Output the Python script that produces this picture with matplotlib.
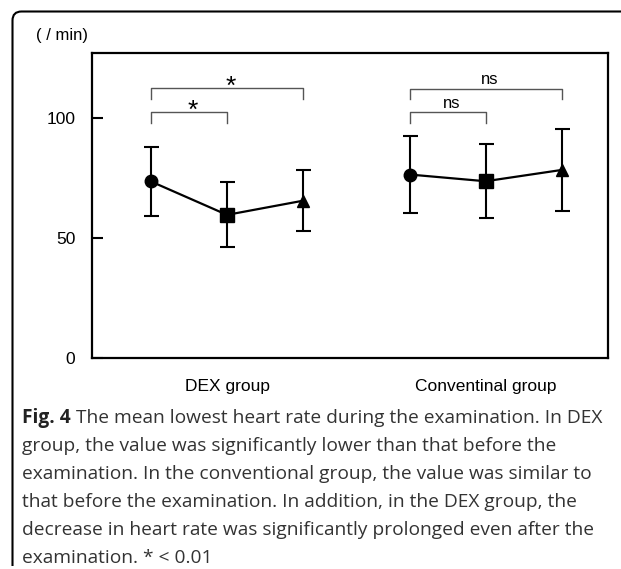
import matplotlib
matplotlib.use("Agg")
import matplotlib.pyplot as plt
from matplotlib.path import Path
from matplotlib.patches import PathPatch

# ---- data ----
groups = ["DEX group", "Conventinal group"]
x_pos = [0, 1, 2, 3.4, 4.4, 5.4]
dex_mean = [73.5, 59.6, 65.5]
dex_sd = [14.2, 13.5, 12.6]
conv_mean = [76.4, 73.6, 78.3]
conv_sd = [15.9, 15.4, 17.2]
markers = ["o", "s", "^"]
marker_sizes = [9, 10, 8.5]
yticks = [0, 50, 100]
brackets = [  # (x1, x2, y_line, y_tick_end, label)
    (0, 2, 112.4, 108.0, "*"),
    (0, 1, 102.5, 98.0, "*"),
    (3.4, 5.4, 112.0, 107.8, "ns"),
    (3.4, 4.4, 102.3, 97.8, "ns"),
]
caption_lines = [
    "The mean lowest heart rate during the examination. In DEX",
    "group, the value was significantly lower than that before the",
    "examination. In the conventional group, the value was similar to",
    "that before the examination. In addition, in the DEX group, the",
    "decrease in heart rate was significantly prolonged even after the",
    "examination. * < 0.01",
]

W, H = 621, 569
fig = plt.figure(figsize=(W / 100, H / 100), dpi=100)
plt.rcParams["font.family"] = ["Liberation Sans", "DejaVu Sans"]

ax = fig.add_axes([92 / W, 1 - 358 / H, 516 / W, 305 / H])
ax.set_xlim(-0.776, 6.01)
ax.set_ylim(0, 127)

for xs, means, sds in [(x_pos[:3], dex_mean, dex_sd), (x_pos[3:], conv_mean, conv_sd)]:
    ax.plot(xs, means, color="black", lw=1.6, zorder=2)
    for x, m, s, mk, ms in zip(xs, means, sds, markers, marker_sizes):
        ax.errorbar([x], [m], yerr=[s], fmt=mk, color="black", ms=ms,
                    elinewidth=1.5, capsize=5.4, capthick=1.5, zorder=3)

for x1, x2, yl, yt, lab in brackets:
    ax.plot([x1, x1, x2, x2], [yt, yl, yl, yt], color="#555555", lw=1.0)
    if lab == "*":
        ax.text((x1 + x2) / 2 + 0.05, yl - 2.5, lab, ha="center", va="baseline", fontsize=19)
    else:
        ax.text((x1 + x2) / 2 + 0.05, yl + 2.0, lab, ha="center", va="baseline", fontsize=12)

ax.set_yticks(yticks)
ax.set_yticklabels([str(v) for v in yticks], fontsize=12.5)
ax.tick_params(axis="y", direction="in", length=8, width=1.5, pad=12)
ax.set_xticks([1, 4.4])
ax.set_xticklabels(groups, fontsize=12.5)
ax.tick_params(axis="x", length=0, pad=15)
for sp in ax.spines.values():
    sp.set_linewidth(1.6)

fig.text(36 / W, 1 - 40 / H, "( / min)", fontsize=12, ha="left", va="baseline")

# outer rounded border (left + top)
r = 9
x0, y0 = 12.5, 11.5
verts = [(x0, 566), (x0, y0 + r), (x0, y0), (x0 + r, y0), (W + 2, y0)]
codes = [Path.MOVETO, Path.LINETO, Path.CURVE3, Path.CURVE3, Path.LINETO]
verts = [(vx / W, 1 - vy / H) for vx, vy in verts]
fig.add_artist(PathPatch(Path(verts, codes), transform=fig.transFigure,
                         fill=False, lw=1.5, edgecolor="black"))

# caption
cap_font = ["Open Sans", "DejaVu Sans"]
cap_size = 13.75
base0 = 423
step = 28
renderer = fig.canvas.get_renderer()
t = fig.text(22 / W, 1 - base0 / H, "Fig. 4", fontsize=cap_size, fontweight="bold",
             family=cap_font, color="#222222", va="baseline")
bb = t.get_window_extent(renderer=renderer)
fig.text(bb.x1 / W + 5 / W, 1 - base0 / H, caption_lines[0], fontsize=cap_size,
         family=cap_font, color="#333333", va="baseline")
for i, line in enumerate(caption_lines[1:], start=1):
    fig.text(22 / W, 1 - (base0 + i * step) / H, line, fontsize=cap_size,
             family=cap_font, color="#333333", va="baseline")

fig.savefig("out.png", dpi=100)
